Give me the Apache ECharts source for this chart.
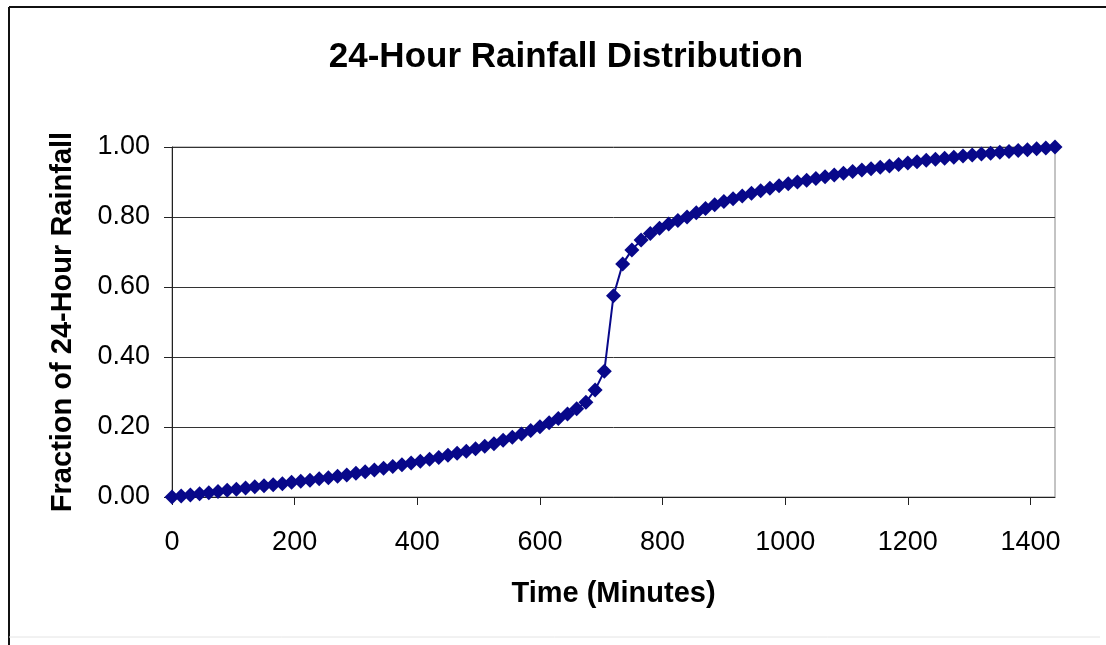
<!DOCTYPE html>
<html>
<head>
<meta charset="utf-8">
<script src="https://cdn.jsdelivr.net/npm/echarts@6/dist/echarts.min.js"></script>
<style>
  html, body { margin: 0; padding: 0; background: #fff; }
  #chart { width: 1106px; height: 645px; }
</style>
</head>
<body>
<div id="chart"></div>
<script>
// time in minutes, 15 min steps
const minutes = []
for (let m = 0; m <= 1440; m += 15) minutes.push(m)

// cumulative fraction of 24-hour rainfall
const fraction = [
  0.000, 0.003, 0.006, 0.009, 0.012, 0.016, 0.019, 0.022, 0.026, 0.029,
  0.032, 0.035, 0.038, 0.042, 0.045, 0.048, 0.052, 0.055, 0.059, 0.063,
  0.068, 0.072, 0.077, 0.082, 0.087, 0.092, 0.097, 0.102, 0.108, 0.113,
  0.119, 0.125, 0.131, 0.138, 0.145, 0.152, 0.162, 0.171, 0.180, 0.190,
  0.201, 0.212, 0.224, 0.237, 0.252, 0.271, 0.306, 0.359, 0.575, 0.666,
  0.706, 0.734, 0.753, 0.768, 0.780, 0.790, 0.800, 0.812, 0.824, 0.835,
  0.844, 0.852, 0.860, 0.868, 0.875, 0.882, 0.889, 0.895, 0.900, 0.905,
  0.910, 0.915, 0.920, 0.925, 0.930, 0.934, 0.938, 0.942, 0.946, 0.950,
  0.954, 0.958, 0.962, 0.965, 0.968, 0.971, 0.974, 0.977, 0.980, 0.982,
  0.985, 0.987, 0.990, 0.992, 0.995, 0.997, 1.000
]

const chart = echarts.init(document.getElementById('chart'))
const font = 'Liberation Sans, Arial, sans-serif'
const navy = '#08088a'

chart.setOption({
  animation: false,
  backgroundColor: '#fff',
  title: {
    text: '24-Hour Rainfall Distribution',
    left: 561,
    top: 35,
    textAlign: 'center',
    textStyle: { fontFamily: font, fontSize: 35, fontWeight: 'bold', color: '#000' }
  },
  graphic: [
    { type: 'line', shape: { x1: 9, y1: 7, x2: 1106, y2: 7 }, style: { stroke: '#111', lineWidth: 2 } },
    { type: 'line', shape: { x1: 9, y1: 7, x2: 9, y2: 645 }, style: { stroke: '#111', lineWidth: 2 } },
    { type: 'line', shape: { x1: 9, y1: 637, x2: 1100, y2: 637 }, style: { stroke: '#e4e4e4', lineWidth: 1 } }
  ],
  grid: { left: 172, right: 51, top: 147, bottom: 148, show: true, borderColor: '#888', borderWidth: 1 },
  xAxis: {
    type: 'value',
    min: 0,
    max: 1440,
    interval: 200,
    name: 'Time (Minutes)',
    nameLocation: 'middle',
    nameGap: 82,
    nameTextStyle: { fontFamily: font, fontSize: 29, fontWeight: 'bold', color: '#000' },
    axisLine: { lineStyle: { color: '#222', width: 1 } },
    axisTick: { show: true, length: 8, lineStyle: { color: '#222' } },
    axisLabel: { fontFamily: font, fontSize: 27, color: '#000', margin: 32, showMaxLabel: false, formatter: v => String(v) },
    splitLine: { show: false }
  },
  yAxis: {
    type: 'value',
    min: 0,
    max: 1,
    interval: 0.2,
    name: 'Fraction of 24-Hour Rainfall',
    nameLocation: 'middle',
    nameGap: 95,
    nameTextStyle: { fontFamily: font, fontSize: 29, fontWeight: 'bold', color: '#000' },
    axisLine: { show: true, lineStyle: { color: '#222', width: 1 } },
    axisTick: { show: true, length: 8, lineStyle: { color: '#222' } },
    axisLabel: { fontFamily: font, fontSize: 27, color: '#000', margin: 22, formatter: v => v.toFixed(2) },
    splitLine: { show: true, lineStyle: { color: '#333', width: 1 } }
  },
  series: [{
    type: 'line',
    data: minutes.map((m, i) => [m, fraction[i]]),
    symbol: 'diamond',
    symbolSize: 15,
    lineStyle: { color: navy, width: 2 },
    itemStyle: { color: navy }
  }]
})
</script>
</body>
</html>
